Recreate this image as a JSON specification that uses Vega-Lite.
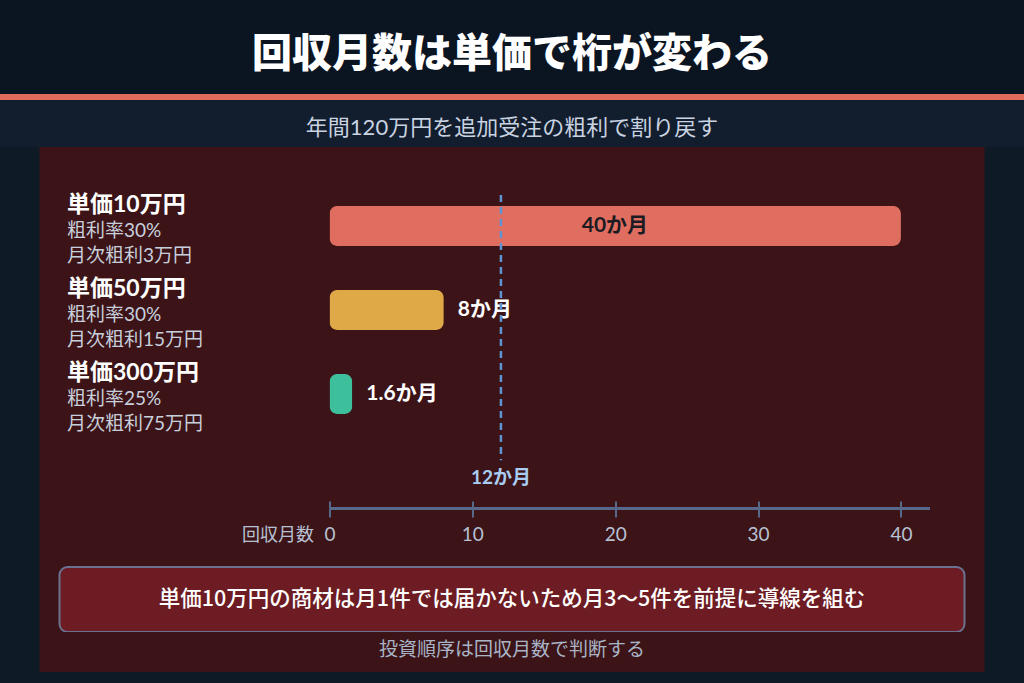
{
  "$schema": "https://vega.github.io/schema/vega-lite/v6.json",
  "description": "回収月数は単価で桁が変わる",
  "background": "#0f1a27",
  "padding": {"top": 0, "left": 0, "right": 0, "bottom": 11},
  "spacing": 0,
  "center": true,
  "bounds": "flush",
  "config": {
    "font": "Noto Sans CJK JP",
    "view": {"stroke": null},
    "axis": {"grid": false},
    "concat": {"spacing": 0}
  },
  "vconcat": [
    {
      "width": 1024,
      "height": 94,
      "view": {"fill": "#0b1522", "stroke": null},
      "data": {"values": [{"title": "回収月数は単価で桁が変わる"}]},
      "mark": {"type": "text", "fontSize": 40, "fontWeight": 900, "color": "#ffffff", "baseline": "middle", "dy": 8},
      "encoding": {"text": {"field": "title"}}
    },
    {
      "width": 1024,
      "height": 6,
      "view": {"fill": "#e06c5c", "stroke": null},
      "data": {"values": [{"t": ""}]},
      "mark": {"type": "text", "fontSize": 0},
      "encoding": {"text": {"field": "t"}}
    },
    {
      "width": 1024,
      "height": 47,
      "view": {"fill": "#121e2d", "stroke": null},
      "data": {"values": [{"subtitle": "年間120万円を追加受注の粗利で割り戻す"}]},
      "mark": {"type": "text", "font": "Lato, Noto Sans CJK JP", "fontSize": 22, "color": "#c9d3e2", "baseline": "middle", "dy": 4},
      "encoding": {"text": {"field": "subtitle"}}
    },
    {
      "width": 945,
      "height": 420,
      "view": {"fill": "#3c1418", "stroke": null},
      "data": {
        "values": [
          {"item": "単価10万円|粗利率30%|月次粗利3万円", "months": 40, "label": "40か月"},
          {"item": "単価50万円|粗利率30%|月次粗利15万円", "months": 8, "label": "8か月"},
          {"item": "単価300万円|粗利率25%|月次粗利75万円", "months": 1.6, "label": "1.6か月"}
        ]
      },
      "resolve": {"axis": {"x": "independent", "y": "independent"}},
      "layer": [
        {
          "mark": {"type": "bar", "cornerRadius": 8, "height": {"band": 0.476}},
          "encoding": {
            "x": {
              "field": "months",
              "type": "quantitative",
              "scale": {"domain": [0, 42], "range": [290, 890], "nice": false},
              "axis": {
                "orient": "bottom",
                "offset": -59,
                "values": [0, 10, 20, 30, 40],
                "domainColor": "#56698a",
                "domainWidth": 3,
                "tickColor": "#56698a",
                "tickWidth": 2,
                "tickSize": 9,
                "labelFlush": false,
                "labelColor": "#b7c1d3",
                "labelFont": "Lato, Noto Sans CJK JP",
                "labelFontSize": 19,
                "labelPadding": 8,
                "title": "回収月数",
                "titleColor": "#b7c1d3",
                "titleFontSize": 18,
                "titleFontWeight": "normal",
                "titleAlign": "right",
                "titleBaseline": "middle",
                "titleAnchor": "start",
                "titleX": 274,
                "titleY": 27
              }
            },
            "y": {
              "field": "item",
              "type": "nominal",
              "scale": {
                "domain": [
                  "単価10万円|粗利率30%|月次粗利3万円",
                  "単価50万円|粗利率30%|月次粗利15万円",
                  "単価300万円|粗利率25%|月次粗利75万円",
                  "12か月"
                ],
                "paddingInner": 0,
                "paddingOuter": 0.5,
                "align": 0.44
              },
              "axis": {
                "orient": "left",
                "values": [
                  "単価10万円|粗利率30%|月次粗利3万円",
                  "単価50万円|粗利率30%|月次粗利15万円",
                  "単価300万円|粗利率25%|月次粗利75万円"
                ],
                "labelExpr": "split(datum.value, '|')[0]",
                "domain": false,
                "ticks": false,
                "tickSize": 0,
                "labelAlign": "left",
                "labelBaseline": "middle",
                "labelPadding": -27,
                "labelOffset": -21,
                "labelFont": "Lato, Noto Sans CJK JP",
                "labelFontSize": 23,
                "labelFontWeight": "bold",
                "labelColor": "#ffffff",
                "title": null
              }
            },
            "color": {
              "field": "item",
              "type": "nominal",
              "scale": {
                "domain": [
                  "単価10万円|粗利率30%|月次粗利3万円",
                  "単価50万円|粗利率30%|月次粗利15万円",
                  "単価300万円|粗利率25%|月次粗利75万円"
                ],
                "range": ["#e06e60", "#e0a948", "#3dbf9b"]
              },
              "legend": null
            }
          }
        },
        {
          "transform": [{"filter": "datum.months >= 20"}],
          "mark": {"type": "text", "align": "center", "baseline": "middle", "dx": -286, "font": "Lato, Noto Sans CJK JP", "fontSize": 21, "fontWeight": "bold", "color": "#1c1b22"},
          "encoding": {
            "x": {"field": "months", "type": "quantitative", "axis": null},
            "y": {
              "field": "item",
              "type": "nominal",
              "axis": {
                "orient": "left",
                "values": [
                  "単価10万円|粗利率30%|月次粗利3万円",
                  "単価50万円|粗利率30%|月次粗利15万円",
                  "単価300万円|粗利率25%|月次粗利75万円"
                ],
                "labelExpr": "slice(split(datum.value, '|'), 1)",
                "domain": false,
                "ticks": false,
                "tickSize": 0,
                "labelAlign": "left",
                "labelBaseline": "middle",
                "labelPadding": -27,
                "labelOffset": 5,
                "labelLineHeight": 25,
                "labelFont": "Lato, Noto Sans CJK JP",
                "labelFontSize": 19,
                "labelColor": "#c8cfdc",
                "title": null
              }
            },
            "text": {"field": "label"}
          }
        },
        {
          "transform": [{"filter": "datum.months < 20"}],
          "mark": {"type": "text", "align": "left", "baseline": "middle", "dx": 14, "font": "Lato, Noto Sans CJK JP", "fontSize": 21, "fontWeight": "bold", "color": "#ffffff"},
          "encoding": {
            "x": {"field": "months", "type": "quantitative", "axis": null},
            "y": {"field": "item", "type": "nominal", "axis": null},
            "text": {"field": "label"}
          }
        },
        {
          "data": {"values": [{"months": 12, "label": "12か月"}]},
          "mark": {"type": "rule", "color": "#5d93d3", "strokeWidth": 2.5, "strokeDash": [7, 5]},
          "encoding": {
            "x": {
              "field": "months",
              "type": "quantitative",
              "axis": {
                "orient": "bottom",
                "offset": -59,
                "values": [0, 10, 20, 30, 40],
                "domain": false,
                "labels": false,
                "tickColor": "#56698a",
                "tickWidth": 2,
                "tickSize": -7,
                "title": null
              }
            },
            "y": {"datum": "単価10万円|粗利率30%|月次粗利3万円", "type": "nominal", "bandPosition": 0.13, "axis": null},
            "y2": {"datum": "12か月", "bandPosition": 0.29}
          }
        },
        {
          "data": {"values": [{"months": 12, "label": "12か月"}]},
          "mark": {"type": "text", "align": "center", "baseline": "middle", "font": "Lato, Noto Sans CJK JP", "fontSize": 19, "fontWeight": "bold", "color": "#a9cdf2"},
          "encoding": {
            "x": {"field": "months", "type": "quantitative", "axis": null},
            "y": {"field": "label", "type": "nominal", "axis": null},
            "text": {"field": "label"}
          }
        }
      ]
    },
    {
      "width": 945,
      "height": 65,
      "view": {"fill": "#3c1418", "stroke": null},
      "data": {"values": [{"note": "単価10万円の商材は月1件では届かないため月3〜5件を前提に導線を組む"}]},
      "encoding": {
        "x": {
          "field": "note",
          "type": "nominal",
          "scale": {"paddingInner": 0, "paddingOuter": 0.0221},
          "axis": null
        }
      },
      "layer": [
        {"mark": {"type": "rect", "fill": "#6c1c22", "stroke": "#6b7290", "strokeWidth": 2, "cornerRadius": 8}},
        {
          "mark": {"type": "text", "fontSize": 21.5, "fontWeight": 500, "color": "#ffffff", "baseline": "middle"},
          "encoding": {"text": {"field": "note"}}
        }
      ]
    },
    {
      "width": 945,
      "height": 40,
      "view": {"fill": "#3c1418", "stroke": null},
      "data": {"values": [{"footer": "投資順序は回収月数で判断する"}]},
      "mark": {"type": "text", "fontSize": 19, "color": "#a9b4c6", "baseline": "middle", "dy": -2},
      "encoding": {"text": {"field": "footer"}}
    }
  ]
}
